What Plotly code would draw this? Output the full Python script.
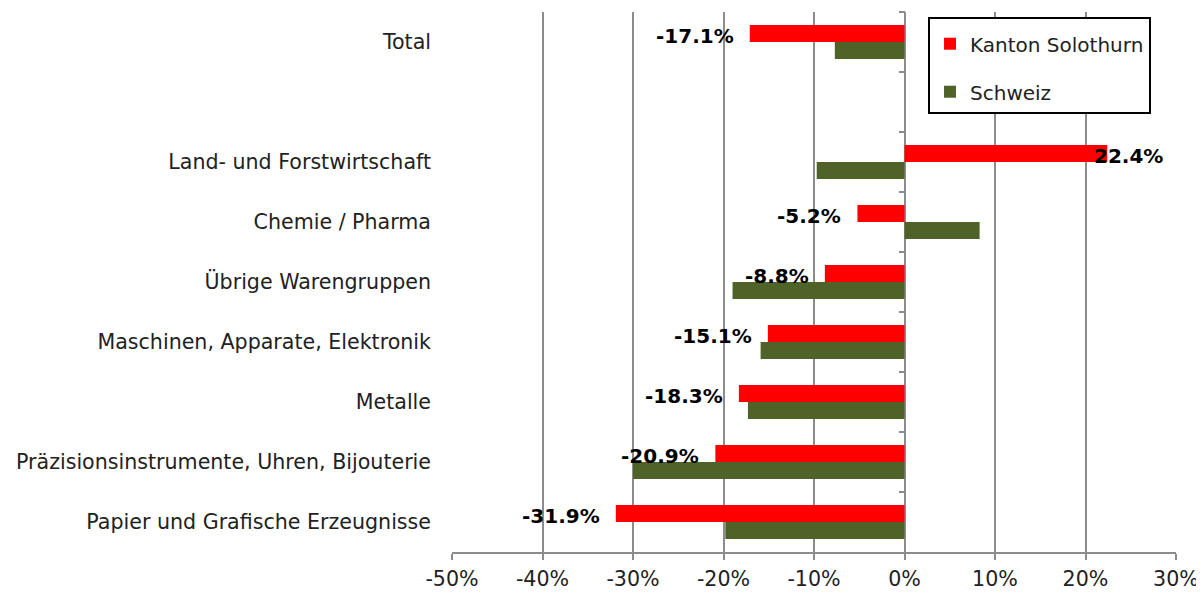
import plotly.graph_objects as go

categories = ["Total", " ", "Land- und Forstwirtschaft", "Chemie / Pharma",
              "Übrige Warengruppen", "Maschinen, Apparate, Elektronik", "Metalle",
              "Präzisionsinstrumente, Uhren, Bijouterie", "Papier und Grafische Erzeugnisse"]
solothurn = [-17.1, None, 22.4, -5.2, -8.8, -15.1, -18.3, -20.9, -31.9]
schweiz = [-7.7, None, -9.7, 8.3, -19.0, -15.9, -17.3, -30.0, -19.8]
x_ticks = [-50, -40, -30, -20, -10, 0, 10, 20, 30]
x_ticklabels = [f"{v}%" for v in x_ticks]

RED = "#FF0000"
GREEN = "#4F6228"
GRID = "#8C8C8C"
FONT = "DejaVu Sans"
TXT = "#222222"

fig = go.Figure()
fig.add_trace(go.Bar(y=categories, x=solothurn, orientation="h", name="Kanton Solothurn",
                     marker=dict(color=RED, line=dict(width=0)), legendgroup="a"))
fig.add_trace(go.Bar(y=categories, x=schweiz, orientation="h", name="Schweiz",
                     marker=dict(color=GREEN, line=dict(width=0)), legendgroup="b"))
# dummy trace to render category ticks on the zero line
fig.add_trace(go.Bar(y=categories, x=[None] * len(categories), orientation="h",
                     yaxis="y2", showlegend=False, hoverinfo="skip"))

for cat, v in zip(categories, solothurn):
    if v is None:
        continue
    fig.add_annotation(x=v, y=cat, text=f"<b>{v:.1f}%</b>", showarrow=False,
                       xanchor="right" if v < 0 else "left",
                       xshift=-14 if v < 0 else -15, yshift=6,
                       font=dict(family=FONT, size=20, color="black"))

x0 = (0 - (-50)) / 80
fig.update_layout(
    width=1196, height=585,
    margin=dict(l=444, r=28, t=4, b=41, autoexpand=False),
    paper_bgcolor="white", plot_bgcolor="white",
    barmode="group", bargap=0.43, bargroupgap=0,
    font=dict(family=FONT, size=20.6, color=TXT),
    xaxis=dict(range=[-50, 30], tickvals=x_ticks, ticktext=x_ticklabels,
               showgrid=True, gridcolor=GRID, gridwidth=2,
               zeroline=True, zerolinecolor=GRID, zerolinewidth=2,
               showline=True, linecolor=GRID, linewidth=2,
               ticks="outside", ticklen=6, tickcolor=GRID, tickwidth=2,
               ticklabelstandoff=1, automargin=False,
               tickfont=dict(family=FONT, size=20.6, color=TXT)),
    yaxis=dict(categoryorder="array", categoryarray=categories, autorange="reversed",
               showgrid=False, zeroline=False, showline=False, ticks="",
               ticklabelstandoff=20, automargin=False,
               tickfont=dict(family=FONT, size=20.6, color=TXT)),
    yaxis2=dict(overlaying="y", matches="y", anchor="free", position=x0, side="left",
                categoryorder="array", categoryarray=categories,
                showticklabels=False, showgrid=False, showline=False, zeroline=False,
                ticks="outside", tickson="boundaries", ticklen=6, tickcolor=GRID, tickwidth=2),
    legend=dict(x=0.6575, y=0.9907, xanchor="left", yanchor="top",
                bordercolor="black", borderwidth=2, bgcolor="white",
                traceorder="grouped", tracegroupgap=19,
                title=dict(text=" ", font=dict(size=4)),
                font=dict(family=FONT, size=20, color=TXT)),
    showlegend=True,
)

fig.write_html("out.html")
